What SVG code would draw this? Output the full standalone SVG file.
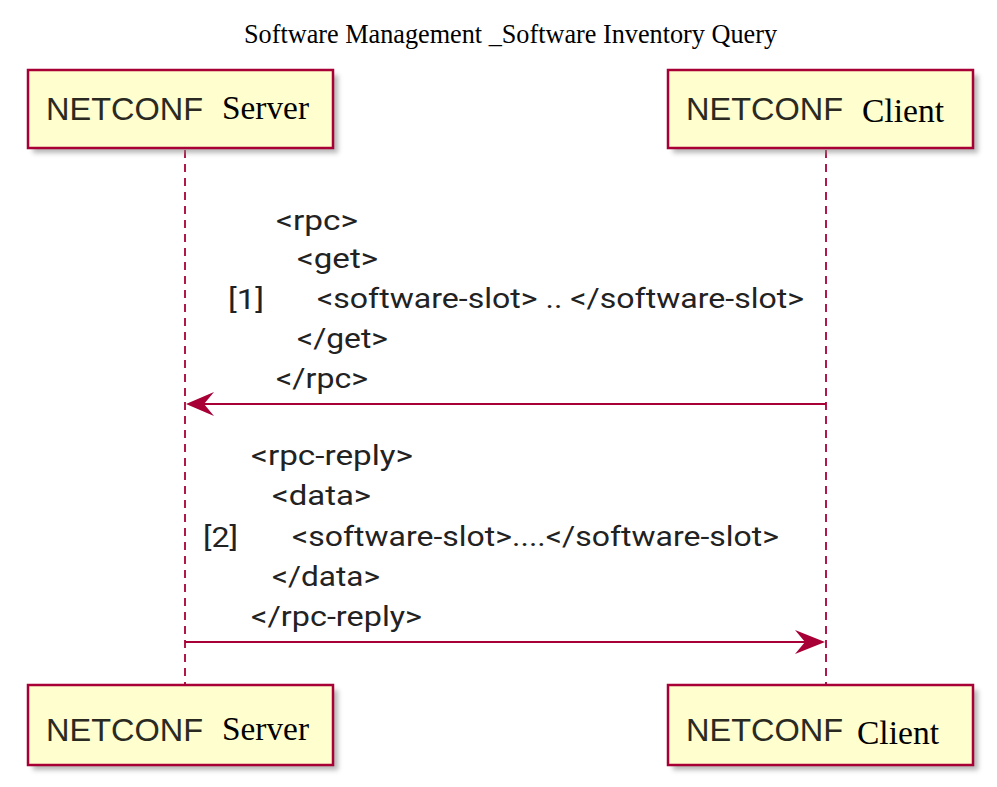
<svg xmlns="http://www.w3.org/2000/svg" width="997" height="787" viewBox="0 0 997 787">
<style>
.box{fill:#FEFECE;stroke:#A80036;stroke-width:2.5}
.shadow{fill:#888;opacity:0.6;filter:url(#blur)}
.life{stroke:#A80036;stroke-width:1.8;stroke-dasharray:8,6;fill:none}
.msg{stroke:#A80036;stroke-width:1.8;fill:none}
.head{fill:#A80036}
.sans{font-family:"Liberation Sans",Arial,sans-serif;font-size:32px;fill:#2a2a22}
.serif{font-family:"Liberation Serif","Times New Roman",serif;font-size:33px;fill:#000}
.m{font-family:Roboto,"Liberation Sans",sans-serif;font-size:28px;fill:#222}
.title{font-family:"Liberation Serif","Times New Roman",serif;font-size:28px;fill:#000}
</style>
<defs>
<filter id="blur" x="-10%" y="-10%" width="120%" height="130%"><feGaussianBlur stdDeviation="2.5"/></filter>
</defs>
<rect width="997" height="787" fill="#fff"/>
<text class="title" x="244" y="43" textLength="533" lengthAdjust="spacingAndGlyphs">Software Management _Software Inventory Query</text>

<g id="lifelines">
<line class="life" x1="185" y1="150" x2="185" y2="684"/>
<line class="life" x1="826" y1="150" x2="826" y2="684"/>
</g>

<g id="server-top">
<rect class="shadow" x="33" y="75" width="305" height="78"/>
<rect class="box" x="28" y="70" width="305" height="78"/>
<text class="sans" x="46" y="120" textLength="157" lengthAdjust="spacingAndGlyphs">NETCONF</text>
<text class="serif" x="222" y="119" textLength="87" lengthAdjust="spacingAndGlyphs">Server</text>
</g>
<g id="client-top">
<rect class="shadow" x="673" y="75" width="305" height="78"/>
<rect class="box" x="668" y="70" width="305" height="78"/>
<text class="sans" x="686" y="120" textLength="157" lengthAdjust="spacingAndGlyphs">NETCONF</text>
<text class="serif" x="862" y="122" textLength="82" lengthAdjust="spacingAndGlyphs">Client</text>
</g>
<g id="server-bottom">
<rect class="shadow" x="33" y="690" width="305" height="80"/>
<rect class="box" x="28" y="685" width="305" height="80"/>
<text class="sans" x="46" y="741" textLength="157" lengthAdjust="spacingAndGlyphs">NETCONF</text>
<text class="serif" x="222" y="740" textLength="87" lengthAdjust="spacingAndGlyphs">Server</text>
</g>
<g id="client-bottom">
<rect class="shadow" x="673" y="690" width="305" height="80"/>
<rect class="box" x="668" y="685" width="305" height="80"/>
<text class="sans" x="686" y="741" textLength="157" lengthAdjust="spacingAndGlyphs">NETCONF</text>
<text class="serif" x="857" y="744" textLength="82" lengthAdjust="spacingAndGlyphs">Client</text>
</g>

<g id="connectors">
<line class="msg" x1="826" y1="404" x2="200" y2="404"/>
<polygon class="head" points="186,404 214,392 204,404 214,416"/>
<line class="msg" x1="185" y1="642" x2="810" y2="642"/>
<polygon class="head" points="825,642 795,630 805,642 795,654"/>
</g>

<g id="label1">
<text class="m" x="276" y="230" textLength="82" lengthAdjust="spacingAndGlyphs">&lt;rpc&gt;</text>
<text class="m" x="297" y="268" textLength="81" lengthAdjust="spacingAndGlyphs">&lt;get&gt;</text>
<text class="m" x="228" y="309" textLength="36" lengthAdjust="spacingAndGlyphs">[1]</text>
<text class="m" x="317" y="308" textLength="487" lengthAdjust="spacingAndGlyphs">&lt;software-slot&gt; .. &lt;/software-slot&gt;</text>
<text class="m" x="297" y="348" textLength="91" lengthAdjust="spacingAndGlyphs">&lt;/get&gt;</text>
<text class="m" x="276" y="388" textLength="92" lengthAdjust="spacingAndGlyphs">&lt;/rpc&gt;</text>
</g>
<g id="label2">
<text class="m" x="251" y="465" textLength="162" lengthAdjust="spacingAndGlyphs">&lt;rpc-reply&gt;</text>
<text class="m" x="272" y="505" textLength="99" lengthAdjust="spacingAndGlyphs">&lt;data&gt;</text>
<text class="m" x="203" y="547" textLength="35" lengthAdjust="spacingAndGlyphs">[2]</text>
<text class="m" x="292" y="546" textLength="487" lengthAdjust="spacingAndGlyphs">&lt;software-slot&gt;....&lt;/software-slot&gt;</text>
<text class="m" x="272" y="586" textLength="108" lengthAdjust="spacingAndGlyphs">&lt;/data&gt;</text>
<text class="m" x="251" y="626" textLength="171" lengthAdjust="spacingAndGlyphs">&lt;/rpc-reply&gt;</text>
</g>
</svg>
